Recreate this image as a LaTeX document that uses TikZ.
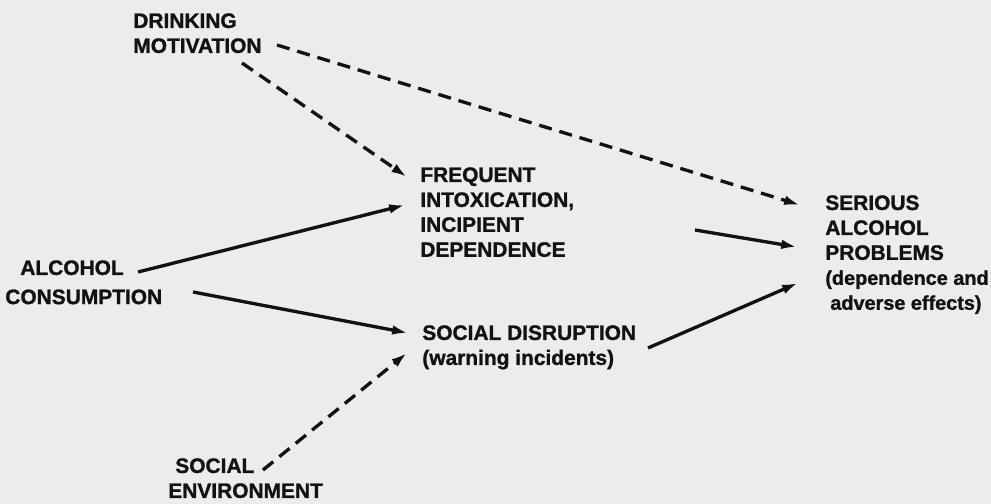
\documentclass[tikz,border=0pt]{standalone}
\usepackage{fontspec}
\setmainfont{Liberation Sans}[BoldFeatures={FakeBold=1.2}]
\usetikzlibrary{arrows.meta}

\definecolor{paper}{RGB}{236,236,235}
\definecolor{ink}{RGB}{18,18,18}

\tikzset{
    factor/.style = {inner sep = 0, anchor = north west, align = left, text = ink,
        font = \fontsize{11.9}{14.2}\selectfont\bfseries},
    link/.style = {ink, line width = 1.9pt, -{Latex[length = 9pt, width = 5.5pt]}},
    weak/.style = {link, dash pattern = on 7.5pt off 4.5pt}
}
\newcommand{\remark}[1]{{\fontsize{11.3}{14.2}\selectfont #1}}

\begin{document}
\begin{tikzpicture}

\useasboundingbox (0, 0) rectangle (19.82, -10.08);
\fill [paper] (0, 0) rectangle (19.82, -10.08);

\node[factor] (drink) at (2.66, -0.26) {DRINKING\\MOTIVATION};
\node[factor] (alcohol) at (0.1, -5.2) {\hspace*{0.3cm}ALCOHOL\\[2.4pt]CONSUMPTION};
\node[factor] (freq) at (8.4, -3.34) {FREQUENT\\INTOXICATION,\\INCIPIENT\\DEPENDENCE};
\node[factor] (disrupt) at (8.44, -6.5) {SOCIAL DISRUPTION\\(warning incidents)};
\node[factor] (socenv) at (3.36, -9.16) {\hspace*{0.14cm}SOCIAL\\ENVIRONMENT};
\node[factor] (serious) at (16.5, -3.9) {SERIOUS\\ALCOHOL\\PROBLEMS\\\remark{(dependence and}\\\remark{\hspace*{0.1cm}adverse effects)}};

    % dashed = weaker influence
    \draw [weak] ([shift={(2.88, -0.64)}]drink.north west) -- ([shift={(-0.5, -0.2)}]serious.north west);
    \draw [weak] ([shift={(2.18, -1.0)}]drink.north west) -- ([shift={(-0.26, -0.2)}]freq.north west);
    \draw [weak] ([shift={(1.9, -0.24)}]socenv.north west) -- ([shift={(-0.3, -0.56)}]disrupt.north west);

    \draw [link] ([shift={(2.66, -0.24)}]alcohol.north west) -- ([shift={(-0.3, -0.76)}]freq.north west);
    \draw [link] ([shift={(3.76, -0.64)}]alcohol.north west) -- ([shift={(-0.28, -0.16)}]disrupt.north west);
    \draw [link] ([shift={(5.5, -1.26)}]freq.north west) -- ([shift={(-0.56, -1.04)}]serious.north west);
    \draw [link] ([shift={(4.52, -0.46)}]disrupt.north west) -- ([shift={(-0.54, -1.76)}]serious.north west);
\end{tikzpicture}
\end{document}
